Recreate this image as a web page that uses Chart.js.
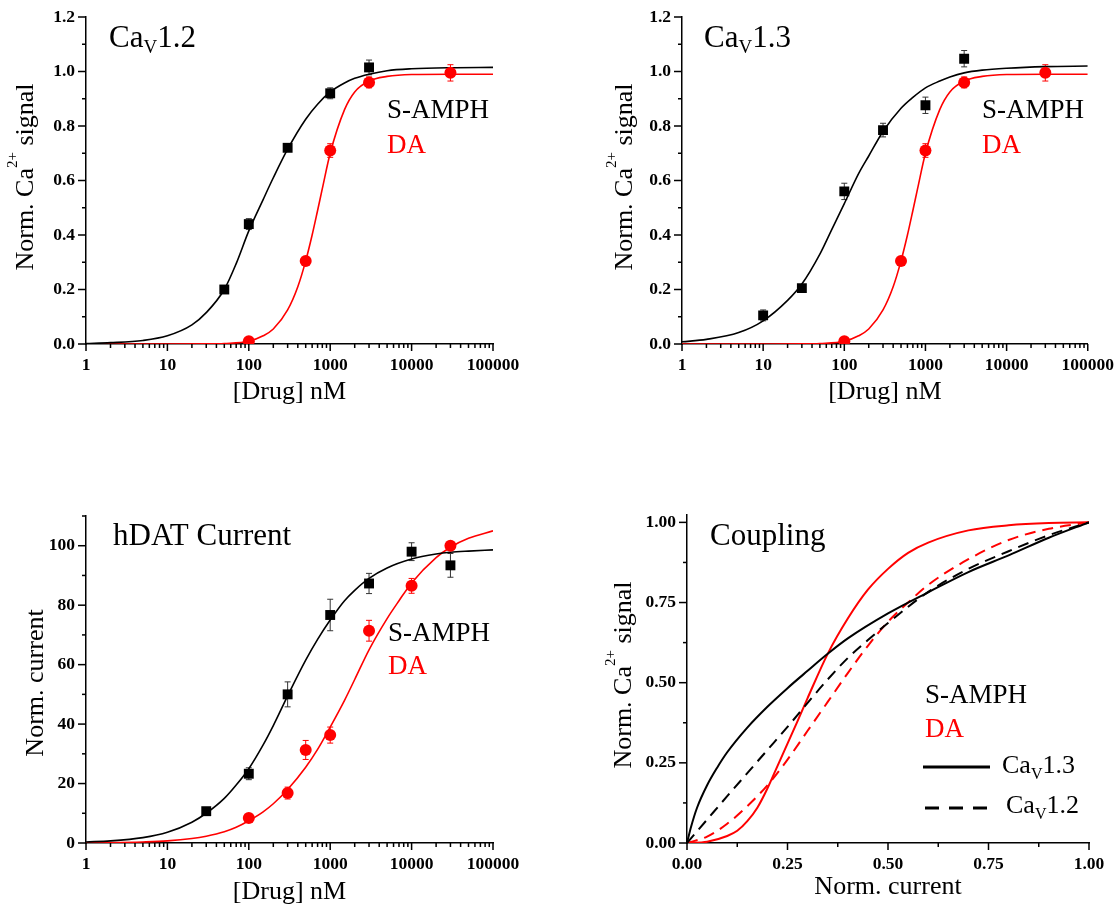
<!DOCTYPE html>
<html>
<head>
<meta charset="utf-8">
<title>Ca(V) channel coupling to hDAT current</title>
<script src="https://cdn.jsdelivr.net/npm/chart.js@4.4.1/dist/chart.umd.min.js"></script>
<style>
  html, body { margin: 0; padding: 0; background: #fff; }
  #fig { position: relative; width: 1117px; height: 909px; overflow: hidden; }
  #fig canvas { position: absolute; }
</style>
</head>
<body>
<div id="fig">
  <canvas id="panelA" width="560" height="420" style="left:0;top:0"></canvas>
  <canvas id="panelB" width="557" height="420" style="left:560px;top:0"></canvas>
  <canvas id="panelC" width="560" height="489" style="left:0;top:420px"></canvas>
  <canvas id="panelD" width="557" height="489" style="left:560px;top:420px"></canvas>
</div>
<script>
// ---------- axis ticks ----------
const doseMajorTicks = [1, 10, 100, 1000, 10000, 100000];
const doseMajorLabels = ['1', '10', '100', '1000', '10000', '100000'];
const doseMinorSteps = [2, 3, 4, 5, 6, 7, 8, 9];

const caMajorTicks = [0, 0.2, 0.4, 0.6, 0.8, 1.0, 1.2];
const caMajorLabels = ['0.0', '0.2', '0.4', '0.6', '0.8', '1.0', '1.2'];
const caMinorTicks = [0.1, 0.3, 0.5, 0.7, 0.9, 1.1];

const currentMajorTicks = [0, 20, 40, 60, 80, 100];
const currentMajorLabels = ['0', '20', '40', '60', '80', '100'];
const currentMinorTicks = [10, 30, 50, 70, 90, 110];

const couplingMajorTicks = [0, 0.25, 0.5, 0.75, 1.0];
const couplingMajorLabels = ['0.00', '0.25', '0.50', '0.75', '1.00'];
const couplingMinorTicks = [0.125, 0.375, 0.625, 0.875];

// ---------- Ca_V1.2 : Ca2+ signal vs dose ----------
const cav12AmphDose = [50, 100, 300, 1000, 3000];
const cav12AmphSignal = [0.20, 0.44, 0.72, 0.92, 1.015];
const cav12AmphErr = [0.01, 0.02, 0.01, 0.02, 0.027];
const cav12DaDose = [100, 500, 1000, 3000, 30000];
const cav12DaSignal = [0.01, 0.305, 0.71, 0.96, 0.995];
const cav12DaErr = [0.006, 0.012, 0.025, 0.02, 0.03];

const cav12AmphFitDose = [1, 2, 5, 10, 20, 30, 50, 70, 100, 150, 200, 300, 500, 700, 1000, 1500, 2000, 3000, 5000, 10000, 30000, 100000];
const cav12AmphFit = [0.002, 0.005, 0.013, 0.03, 0.07, 0.115, 0.2, 0.295, 0.415, 0.53, 0.61, 0.715, 0.825, 0.88, 0.925, 0.958, 0.975, 0.99, 1.003, 1.01, 1.014, 1.015];
const cav12DaFitDose = [1, 10, 30, 50, 100, 150, 200, 300, 400, 500, 600, 700, 800, 1000, 1500, 2000, 3000, 5000, 10000, 30000, 100000];
const cav12DaFit = [0, 0, 0.0005, 0.002, 0.01, 0.03, 0.055, 0.125, 0.21, 0.305, 0.40, 0.49, 0.57, 0.70, 0.86, 0.925, 0.965, 0.982, 0.989, 0.99, 0.99];

// ---------- Ca_V1.3 : Ca2+ signal vs dose ----------
const cav13AmphDose = [10, 30, 100, 300, 1000, 3000];
const cav13AmphSignal = [0.105, 0.205, 0.56, 0.785, 0.876, 1.047];
const cav13AmphErr = [0.02, 0.01, 0.03, 0.025, 0.03, 0.03];
const cav13DaDose = [100, 500, 1000, 3000, 30000];
const cav13DaSignal = [0.01, 0.305, 0.71, 0.96, 0.995];
const cav13DaErr = [0.006, 0.012, 0.025, 0.02, 0.03];

const cav13AmphFitDose = [1, 2, 5, 10, 20, 30, 50, 70, 100, 150, 200, 300, 500, 700, 1000, 1500, 2000, 3000, 5000, 10000, 30000, 100000];
const cav13AmphFit = [0.008, 0.017, 0.042, 0.085, 0.16, 0.22, 0.33, 0.42, 0.515, 0.625, 0.69, 0.78, 0.865, 0.905, 0.94, 0.965, 0.98, 0.995, 1.005, 1.012, 1.018, 1.02];
const cav13DaFitDose = [1, 10, 30, 50, 100, 150, 200, 300, 400, 500, 600, 700, 800, 1000, 1500, 2000, 3000, 5000, 10000, 30000, 100000];
const cav13DaFit = [0, 0, 0.0005, 0.002, 0.01, 0.03, 0.055, 0.125, 0.21, 0.305, 0.40, 0.49, 0.57, 0.70, 0.86, 0.925, 0.965, 0.982, 0.989, 0.99, 0.99];

// ---------- hDAT current vs dose ----------
const hdatAmphDose = [30, 100, 300, 1000, 3000, 10000, 30000];
const hdatAmphCurrent = [10.7, 23.3, 50.0, 76.7, 87.3, 98.0, 93.4];
const hdatAmphErr = [1, 2, 4.2, 5.3, 3.4, 3, 4];
const hdatDaDose = [100, 300, 500, 1000, 3000, 10000, 30000];
const hdatDaCurrent = [8.4, 16.8, 31.3, 36.3, 71.4, 86.5, 100.0];
const hdatDaErr = [1, 2, 3.2, 2.7, 3.5, 2.5, 1];

const hdatAmphFitDose = [1, 2, 5, 10, 20, 30, 50, 70, 100, 150, 200, 300, 500, 700, 1000, 1500, 2000, 3000, 5000, 10000, 20000, 30000, 50000, 100000];
const hdatAmphFit = [0.35, 0.7, 1.8, 3.6, 7.0, 10.0, 15.0, 19.5, 25, 33, 39.5, 49.5, 61.5, 68.5, 75, 81.5, 85, 89, 92.5, 95.5, 97.2, 97.8, 98.2, 98.6];
const hdatDaFitDose = [1, 2, 5, 10, 20, 30, 50, 70, 100, 150, 200, 300, 500, 700, 1000, 1500, 2000, 3000, 5000, 7000, 10000, 20000, 30000, 50000, 100000];
const hdatDaFit = [0.05, 0.12, 0.35, 0.7, 1.5, 2.3, 3.8, 5.3, 7.5, 10.5, 13.2, 18, 25.5, 31.5, 39, 48, 55, 65, 75.5, 81.5, 87.5, 96, 99.5, 102.5, 105];

// ---------- Coupling: Ca2+ signal vs current ----------
const coupAmph13Current = [0, 0.01, 0.025, 0.05, 0.075, 0.1, 0.15, 0.2, 0.25, 0.3, 0.35, 0.4, 0.5, 0.6, 0.7, 0.8, 0.9, 1.0];
const coupAmph13Signal = [0, 0.05, 0.11, 0.18, 0.235, 0.283, 0.36, 0.425, 0.483, 0.537, 0.59, 0.638, 0.716, 0.782, 0.845, 0.897, 0.952, 1.0];
const coupAmph12Current = [0, 0.05, 0.1, 0.15, 0.2, 0.25, 0.3, 0.35, 0.4, 0.45, 0.5, 0.6, 0.7, 0.8, 0.9, 1.0];
const coupAmph12Signal = [0, 0.073, 0.146, 0.218, 0.29, 0.362, 0.437, 0.51, 0.577, 0.633, 0.686, 0.783, 0.855, 0.91, 0.96, 1.0];
const coupDa13Current = [0, 0.05, 0.1, 0.125, 0.15, 0.175, 0.2, 0.225, 0.25, 0.275, 0.3, 0.35, 0.4, 0.45, 0.5, 0.55, 0.6, 0.7, 0.8, 0.9, 1.0];
const coupDa13Signal = [0, 0.004, 0.022, 0.038, 0.068, 0.11, 0.17, 0.24, 0.31, 0.38, 0.452, 0.59, 0.70, 0.79, 0.855, 0.905, 0.937, 0.975, 0.991, 0.998, 1.0];
const coupDa12Current = [0, 0.05, 0.1, 0.15, 0.2, 0.25, 0.3, 0.35, 0.4, 0.45, 0.5, 0.55, 0.6, 0.7, 0.8, 0.9, 1.0];
const coupDa12Signal = [0, 0.02, 0.06, 0.115, 0.18, 0.26, 0.35, 0.44, 0.53, 0.615, 0.69, 0.75, 0.805, 0.885, 0.945, 0.98, 1.0];

// ---------- styling ----------
const SERIF = "'Liberation Serif', 'Times New Roman', serif";
const BLACK = '#000000';
const RED = '#ff0000';
const TICK_SPACE = 8;                       // room kept between axis line and labels
const TICK_LEN = { x: [7, 4], y: [8, 4] };  // [labelled, unlabelled] mark lengths

const pts = (xs, ys) => xs.map((x, i) => ({ x: x, y: ys[i] }));

function fitCurve(xs, ys, color, dash, width) {
  return {
    type: 'line', data: pts(xs, ys), borderColor: color, borderWidth: width || 1.6,
    borderDash: dash || [], pointRadius: 0, fill: false,
    cubicInterpolationMode: 'monotone', order: 2
  };
}
function markers(xs, ys, errs, color, style) {
  return {
    type: 'scatter', data: pts(xs, ys), pointStyle: style,
    pointRadius: style === 'rect' ? 7 : 6, backgroundColor: color, borderColor: color,
    borderWidth: 0, errors: errs, errorColor: color === BLACK ? '#333333' : RED, order: 1
  };
}

function axis(spec) {
  const major = spec.major, labels = spec.labels;
  const all = major.concat(spec.minor).sort((a, b) => a - b);
  const near = (a, b) => Math.abs(a - b) <= 1e-9 * Math.max(1, Math.abs(b));
  const labelOf = v => { const k = major.findIndex(m => near(v, m)); return k < 0 ? '' : labels[k]; };
  const out = {
    type: spec.type, position: spec.pos, min: spec.min, max: spec.max,
    afterBuildTicks: s => { s.ticks = all.map(v => ({ value: v, major: labelOf(v) !== '' })); },
    afterFit: s => { if (spec.pos === 'left') s.width = spec.size; else s.height = spec.size; },
    border: { display: true, color: BLACK, width: 1.5 },
    // tick space is reserved here; the marks themselves are painted by the tickMarks plugin
    grid: { display: true, drawOnChartArea: false, drawTicks: true, tickLength: TICK_SPACE,
            tickColor: 'rgba(0,0,0,0)', color: 'rgba(0,0,0,0)' },
    ticks: {
      autoSkip: false, maxRotation: 0, minRotation: 0, padding: spec.pad, color: BLACK,
      font: { family: SERIF, size: 17.5, weight: 'bold' },
      callback: v => labelOf(v)
    },
    title: { display: false }
  };
  if (spec.title) {
    out.title = {
      display: true, text: spec.title, color: BLACK,
      font: { family: SERIF, size: 26, weight: 'normal' },
      padding: { top: 0, bottom: spec.titlePad }
    };
  }
  return out;
}

// outward tick marks: long at labelled ticks, short in between
const tickMarks = {
  id: 'tickMarks',
  afterDraw(chart) {
    const ctx = chart.ctx;
    const area = chart.chartArea;
    ['x', 'y'].forEach(id => {
      const s = chart.scales[id];
      ctx.save();
      ctx.fillStyle = BLACK;
      s.ticks.forEach(t => {
        const labelled = typeof t.label === 'string' && t.label !== '';
        const len = TICK_LEN[id][labelled ? 0 : 1];
        const p = s.getPixelForValue(t.value);
        if (id === 'x') ctx.fillRect(p - 0.75, area.bottom, 1.5, len);
        else ctx.fillRect(area.left - len, p - 0.75, len, 1.5);
      });
      ctx.restore();
    });
  }
};

// error bars drawn through the chart's own scales
const errorBars = {
  id: 'errorBars',
  beforeDatasetsDraw(chart) {
    const ctx = chart.ctx, xs = chart.scales.x, ys = chart.scales.y;
    chart.data.datasets.forEach(ds => {
      if (!ds.errors) return;
      ctx.save();
      ctx.strokeStyle = ds.errorColor; ctx.lineWidth = 1;
      ds.data.forEach((p, j) => {
        const e = ds.errors[j];
        const px = xs.getPixelForValue(p.x);
        const top = ys.getPixelForValue(p.y + e), bot = ys.getPixelForValue(p.y - e);
        ctx.beginPath();
        ctx.moveTo(px, top); ctx.lineTo(px, bot);
        ctx.moveTo(px - 3, top); ctx.lineTo(px + 3, top);
        ctx.moveTo(px - 3, bot); ctx.lineTo(px + 3, bot);
        ctx.stroke();
      });
      ctx.restore();
    });
  }
};

// rich text: labels with sub/superscripts, plus legend keys
function seg(text, size, dy) { return { text: text, size: size, dy: dy || 0 }; }
function annotations(items, keys) {
  return {
    id: 'annotations',
    afterDraw(chart) {
      const ctx = chart.ctx;
      (keys || []).forEach(k => {
        ctx.save();
        ctx.strokeStyle = BLACK; ctx.lineWidth = 3; ctx.setLineDash(k.dash);
        ctx.beginPath(); ctx.moveTo(k.x1, k.y); ctx.lineTo(k.x2, k.y); ctx.stroke();
        ctx.restore();
      });
      items.forEach(it => {
        ctx.save();
        ctx.translate(it.x, it.y);
        if (it.rotate) ctx.rotate(it.rotate);
        ctx.fillStyle = it.color || BLACK;
        ctx.textBaseline = 'alphabetic'; ctx.textAlign = 'left';
        let total = 0;
        const widths = it.segs.map(s => {
          ctx.font = s.size + 'px ' + SERIF;
          const w = ctx.measureText(s.text).width; total += w; return w;
        });
        let cx = it.center ? -total / 2 : 0;
        it.segs.forEach((s, i) => {
          ctx.font = s.size + 'px ' + SERIF;
          ctx.fillText(s.text, cx, s.dy);
          cx += widths[i];
        });
        ctx.restore();
      });
    }
  };
}

const caTitle = [seg('Norm. Ca', 26), seg('2+', 15, -16), seg(' signal', 26)];

function makeChart(id, datasets, scales, padding, plugins) {
  return new Chart(document.getElementById(id), {
    type: 'scatter',
    data: { datasets: datasets },
    options: {
      responsive: false, animation: false, devicePixelRatio: 1, events: [],
      layout: { padding: padding },
      plugins: { legend: { display: false }, tooltip: { enabled: false } },
      scales: scales
    },
    plugins: [errorBars, tickMarks].concat(plugins)
  });
}

const doseAxis = (size, titlePad) => axis({
  type: 'logarithmic', pos: 'bottom', min: 1, max: 100000,
  major: doseMajorTicks, labels: doseMajorLabels,
  minor: doseMajorTicks.slice(0, -1).flatMap(d => doseMinorSteps.map(m => m * d)),
  size: size, pad: 3, title: '[Drug] nM', titlePad: titlePad
});

// Ca_V1.2
makeChart('panelA', [
  markers(cav12AmphDose, cav12AmphSignal, cav12AmphErr, BLACK, 'rect'),
  markers(cav12DaDose, cav12DaSignal, cav12DaErr, RED, 'circle'),
  fitCurve(cav12AmphFitDose, cav12AmphFit, BLACK),
  fitCurve(cav12DaFitDose, cav12DaFit, RED)
], {
  x: doseAxis(76, 12),
  y: axis({ type: 'linear', pos: 'left', min: 0, max: 1.2, major: caMajorTicks, labels: caMajorLabels, minor: caMinorTicks, size: 86, pad: 3 })
}, { top: 17, right: 67, left: 0, bottom: 0 }, [annotations([
  { x: 109, y: 47, segs: [seg('Ca', 31), seg('V', 19, 6), seg('1.2', 31)] },
  { x: 387, y: 118, segs: [seg('S-AMPH', 27)] },
  { x: 387, y: 153, color: RED, segs: [seg('DA', 27)] },
  { x: 33, y: 177, rotate: -Math.PI / 2, center: true, segs: caTitle }
])]);

// Ca_V1.3
makeChart('panelB', [
  markers(cav13AmphDose, cav13AmphSignal, cav13AmphErr, BLACK, 'rect'),
  markers(cav13DaDose, cav13DaSignal, cav13DaErr, RED, 'circle'),
  fitCurve(cav13AmphFitDose, cav13AmphFit, BLACK),
  fitCurve(cav13DaFitDose, cav13DaFit, RED)
], {
  x: doseAxis(76, 12),
  y: axis({ type: 'linear', pos: 'left', min: 0, max: 1.2, major: caMajorTicks, labels: caMajorLabels, minor: caMinorTicks, size: 122, pad: 3 })
}, { top: 17, right: 29, left: 0, bottom: 0 }, [annotations([
  { x: 144, y: 47, segs: [seg('Ca', 31), seg('V', 19, 6), seg('1.3', 31)] },
  { x: 422, y: 118, segs: [seg('S-AMPH', 27)] },
  { x: 422, y: 153, color: RED, segs: [seg('DA', 27)] },
  { x: 72, y: 177, rotate: -Math.PI / 2, center: true, segs: caTitle }
])]);

// hDAT current
makeChart('panelC', [
  markers(hdatAmphDose, hdatAmphCurrent, hdatAmphErr, BLACK, 'rect'),
  markers(hdatDaDose, hdatDaCurrent, hdatDaErr, RED, 'circle'),
  fitCurve(hdatAmphFitDose, hdatAmphFit, BLACK),
  fitCurve(hdatDaFitDose, hdatDaFit, RED)
], {
  x: doseAxis(66, 1),
  y: axis({ type: 'linear', pos: 'left', min: 0, max: 110, major: currentMajorTicks, labels: currentMajorLabels, minor: currentMinorTicks, size: 86, pad: 3 })
}, { top: 96, right: 67, left: 0, bottom: 0 }, [annotations([
  { x: 113, y: 125, segs: [seg('hDAT Current', 31)] },
  { x: 388, y: 221, segs: [seg('S-AMPH', 27)] },
  { x: 388, y: 254, color: RED, segs: [seg('DA', 27)] },
  { x: 43, y: 263, rotate: -Math.PI / 2, center: true, segs: [seg('Norm. current', 26)] }
])]);

// Coupling
makeChart('panelD', [
  fitCurve(coupAmph13Current, coupAmph13Signal, BLACK, [], 2),
  fitCurve(coupAmph12Current, coupAmph12Signal, BLACK, [11, 7], 2),
  fitCurve(coupDa13Current, coupDa13Signal, RED, [], 2),
  fitCurve(coupDa12Current, coupDa12Signal, RED, [11, 7], 2)
], {
  x: axis({ type: 'linear', pos: 'bottom', min: 0, max: 1, major: couplingMajorTicks, labels: couplingMajorLabels, minor: couplingMinorTicks, size: 66, pad: 3, title: 'Norm. current', titlePad: 6 }),
  y: axis({ type: 'linear', pos: 'left', min: 0, max: 1.023, major: couplingMajorTicks, labels: couplingMajorLabels, minor: couplingMinorTicks, size: 127, pad: 3 })
}, { top: 95, right: 28, left: 0, bottom: 0 }, [annotations([
  { x: 150, y: 125, segs: [seg('Coupling', 31)] },
  { x: 365, y: 283, segs: [seg('S-AMPH', 27)] },
  { x: 365, y: 317, color: RED, segs: [seg('DA', 27)] },
  { x: 442, y: 353, segs: [seg('Ca', 26), seg('V', 16, 6), seg('1.3', 26)] },
  { x: 446, y: 393, segs: [seg('Ca', 26), seg('V', 16, 6), seg('1.2', 26)] },
  { x: 71, y: 255, rotate: -Math.PI / 2, center: true, segs: caTitle }
], [
  { x1: 363, x2: 430, y: 347, dash: [] },
  { x1: 365, x2: 427, y: 388, dash: [14, 10] }
])]);
</script>
</body>
</html>
